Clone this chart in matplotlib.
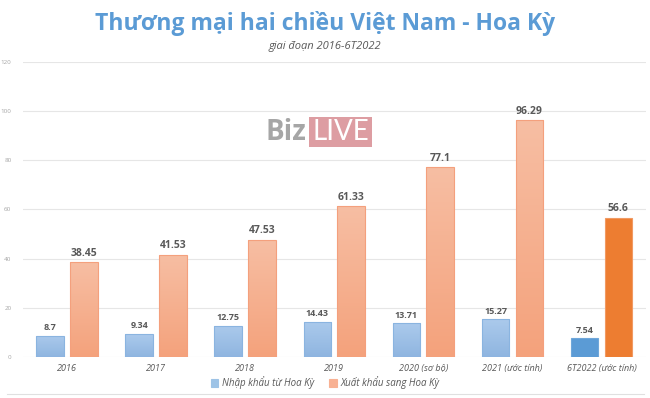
import matplotlib
matplotlib.use("Agg")
import matplotlib.pyplot as plt
import numpy as np
from matplotlib.patches import Rectangle
from matplotlib.colors import LinearSegmentedColormap

categories = ["2016", "2017", "2018", "2019", "2020 (sơ bộ)", "2021 (ước tính)", "6T2022 (ước tính)"]
imports_us = [8.7, 9.34, 12.75, 14.43, 13.71, 15.27, 7.54]
exports_us = [38.45, 41.53, 47.53, 61.33, 77.1, 96.29, 56.6]
yticks = [0, 20, 40, 60, 80, 100, 120]
series_names = ["Nhập khẩu từ Hoa Kỳ", "Xuất khẩu sang Hoa Kỳ"]

plt.rcParams['font.family'] = ['Open Sans', 'DejaVu Sans']

fig = plt.figure(figsize=(6.5, 3.98), dpi=100)
ax = fig.add_axes([22.5/650, 41/398, (646-22.5)/650, 295/398])

x = np.arange(len(categories))
w = 0.31
off = 0.19
blue_e = ["#8AB4E0"] * 6 + ["#6FA7DA"]
orng_e = ["#F4A07D"] * 6 + ["#F19A63"]

b1 = ax.bar(x - off, imports_us, w, color="#9DC3E6", edgecolor=blue_e, linewidth=0.8, zorder=3)
b2 = ax.bar(x + off, exports_us, w, color="#F8B193", edgecolor=orng_e, linewidth=0.8, zorder=3)

cm_blue = LinearSegmentedColormap.from_list("b", ["#8FB5E0", "#ABCAEC"])
cm_orng = LinearSegmentedColormap.from_list("o", ["#F4A27C", "#F7BEA3"])
grad = np.linspace(0, 1, 100).reshape(-1, 1)
for bars, cm, solid in [(b1, cm_blue, "#5B9BD5"), (b2, cm_orng, "#ED7D31")]:
    for i, p in enumerate(bars):
        if i == len(bars) - 1:
            p.set_facecolor(solid)
            continue
        x0, y0 = p.get_x(), p.get_y()
        im = ax.imshow(grad, cmap=cm, origin="lower", aspect="auto",
                       extent=[x0, x0 + p.get_width(), y0, y0 + p.get_height()], zorder=3.1)
        im.set_clip_path(p)
        p.set_zorder(3.2)
        p.set_facecolor("none")

for xi, v in zip(x, imports_us):
    ax.text(xi - off, v + 1.5, f"{v:g}", ha="center", va="bottom", fontsize=6.5,
            color="#595959", fontweight="bold")
for xi, v in zip(x, exports_us):
    ax.text(xi + off, v + 1.5, f"{v:g}", ha="center", va="bottom", fontsize=7.5,
            color="#595959", fontweight="bold")

ax.set_xlim(-0.5, len(categories) - 0.5)
ax.set_ylim(0, 120)
ax.set_yticks(yticks)
ax.set_yticklabels([str(t) for t in yticks], fontsize=4.5, color="#A6A6A6")
ax.set_xticks(x)
ax.set_xticklabels(categories, fontsize=6.5, color="#595959", style="italic")
ax.tick_params(axis="both", length=0)
ax.tick_params(axis="y", pad=8)
ax.tick_params(axis="x", pad=5)
ax.grid(axis="y", color="#E6E6E6", linewidth=0.8, zorder=0)
ax.set_axisbelow(True)
for s in ax.spines.values():
    s.set_visible(False)

fig.text(0.5, 1 - 23/398, "Thương mại hai chiều Việt Nam - Hoa Kỳ", ha="center", va="center",
         fontsize=16.5, fontweight="bold", color="#5B9BD5")
fig.text(0.5, 1 - 46/398, "giai đoạn 2016-6T2022", ha="center", va="center",
         fontsize=8, style="italic", color="#595959")

# watermark
fig.text(306/650, 1 - 132/398, "Biz", ha="right", va="center", fontsize=20,
         fontweight="bold", color="#A6A6A6", zorder=5)
fig.patches.append(Rectangle((309/650, 1 - 147/398), 63/650, 30/398, transform=fig.transFigure,
                             facecolor="#DA9398", edgecolor="none", alpha=0.9, zorder=4))
fig.text(340.5/650, 1 - 132/398, "LIVE", ha="center", va="center", fontsize=20,
         fontweight="normal", color="white", zorder=5, family=["Lato", "DejaVu Sans"])

leg = fig.legend([b1, b2], series_names, loc="center", bbox_to_anchor=(0.5, 1 - 383/398),
                 ncol=2, frameon=False, fontsize=7, handlelength=0.75, handleheight=0.75,
                 columnspacing=1.6, handletextpad=0.35)
for t in leg.get_texts():
    t.set_color("#595959")
    t.set_style("italic")
for h, c in zip(leg.legend_handles, ["#9DC3E6", "#F8B193"]):
    h.set_facecolor(c)
    h.set_edgecolor(c)

fig.add_artist(plt.Line2D([0.01, 0.99], [1 - 394/398, 1 - 394/398], transform=fig.transFigure,
                          color="#E0E0E0", linewidth=0.8))

fig.savefig("out.png", dpi=100)
